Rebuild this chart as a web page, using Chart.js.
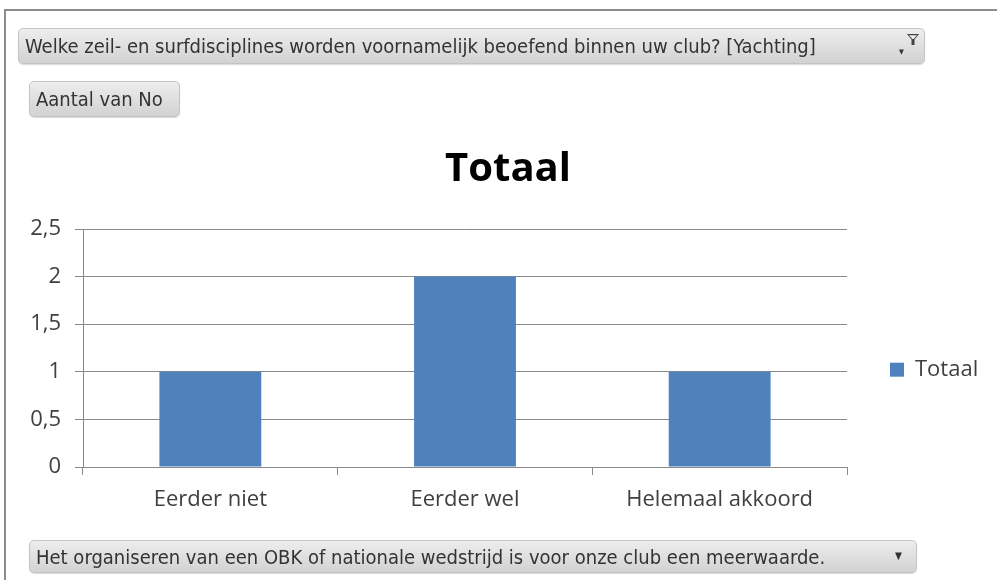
<!DOCTYPE html>
<html>
<head>
<meta charset="utf-8">
<script src="https://cdn.jsdelivr.net/npm/chart.js@4"></script>
<style>
  html, body { margin: 0; padding: 0; background: #fff; }
  #wrap { position: relative; width: 997px; height: 580px; overflow: hidden; }
  #frame {
    position: absolute; left: 4px; top: 9px; width: 1100px; height: 700px;
    border-left: 2px solid #8c8c8c; border-top: 2px solid #8c8c8c;
  }
  #chart { position: absolute; left: 0; top: 0; }
  .btn {
    position: absolute; box-sizing: border-box;
    border: 1px solid #c4c4c4; border-radius: 5px;
    background: linear-gradient(#ededed, #d2d2d2);
    box-shadow: 0 1px 1px rgba(0,0,0,0.15);
    font-family: "DejaVu Sans Condensed", "DejaVu Sans", sans-serif;
    font-size: 20px; color: #333; padding-left: 6px; white-space: nowrap;
  }
  .arrow { position: absolute; font-size: 10px; color: #333; line-height: 10px; }
</style>
</head>
<body>
<div id="wrap">
  <div id="frame"></div>
  <canvas id="chart" width="997" height="580"></canvas>
  <div class="btn" style="left:18px;top:28px;width:907px;height:36px;line-height:35px;">Welke zeil- en surfdisciplines worden voornamelijk beoefend binnen uw club? [Yachting]
    <span class="arrow" style="left:880px;top:18px;font-size:7px;">&#9660;</span>
    <svg style="position:absolute;left:887px;top:4px;" width="14" height="14" viewBox="0 0 14 14">
      <path d="M1 1 H13 L8.5 6.5 V12 H5.5 V6.5 Z" fill="#444"/>
      <path d="M3 2.2 H11 L7.6 6 H6.4 Z" fill="#eee"/>
    </svg>
  </div>
  <div class="btn" style="left:29px;top:81px;width:151px;height:36px;line-height:35px;">Aantal van No</div>
  <div class="btn" style="left:29px;top:540px;width:888px;height:33px;line-height:32px;">Het organiseren van een OBK of nationale wedstrijd is voor onze club een meerwaarde.
    <span class="arrow" style="left:865px;top:10px;">&#9660;</span>
  </div>
</div>
<script>
const categories = ['Eerder niet', 'Eerder wel', 'Helemaal akkoord'];
const totaal = [1, 2, 1];
const seriesName = 'Totaal';

const font = '"Open Sans", "Liberation Sans", sans-serif';
const textColor = '#404040';
const gridColor = '#8a8a8a';

// fixed legend width so the plot area ends where it should,
// and the title box nudged right a little (Excel centres it slightly off)
const layoutTweaks = {
    id: 'layoutTweaks',
    beforeInit(chart) {
        const lg = chart.legend;
        if (!lg) return;
        const orig = lg.fit.bind(lg);
        lg.fit = function () {
            orig();
            this.width = 132;
            this.right = this.left + 132;
        };
    },
    afterLayout(chart) {
        if (chart.titleBlock) chart.titleBlock.left += 17;
    }
};

new Chart(document.getElementById('chart'), {
    type: 'bar',
    data: {
        labels: categories,
        datasets: [{
            label: seriesName,
            data: totaal,
            backgroundColor: '#4f81bd',
            categoryPercentage: 0.4,
            barPercentage: 1
        }]
    },
    options: {
        responsive: false,
        animation: false,
        layout: { padding: { left: 20, top: 146, right: 18, bottom: 63 } },
        plugins: {
            title: {
                display: true,
                text: 'Totaal',
                color: '#000',
                font: { family: font, size: 40, weight: 'bold' },
                padding: { top: 0, bottom: 35 }
            },
            legend: {
                position: 'right',
                // empty title only pushes the entry down to sit beside the plot's middle
                title: { display: true, text: '', font: { size: 12 }, padding: { top: 31, bottom: 31 } },
                labels: {
                    color: textColor,
                    font: { family: font, size: 22 },
                    boxWidth: 14,
                    boxHeight: 14,
                    padding: 43
                }
            },
            tooltip: { enabled: false }
        },
        scales: {
            x: {
                grid: { offset: true, drawOnChartArea: false, drawTicks: true, tickLength: 8, color: gridColor },
                border: { display: true, color: gridColor },
                ticks: { color: textColor, font: { family: font, size: 22 }, padding: 12 },
                afterFit: function (scale) { scale.height = 50; }
            },
            y: {
                min: 0,
                max: 2.5,
                ticks: {
                    stepSize: 0.5,
                    color: textColor,
                    font: { family: font, size: 22 },
                    padding: 14,
                    callback: function (v) { return String(v).replace('.', ','); }
                },
                grid: { color: gridColor, tickLength: 8 },
                border: { display: true, color: gridColor },
                afterFit: function (scale) { scale.width = 63; }
            }
        }
    },
    plugins: [layoutTweaks]
});
</script>
</body>
</html>
